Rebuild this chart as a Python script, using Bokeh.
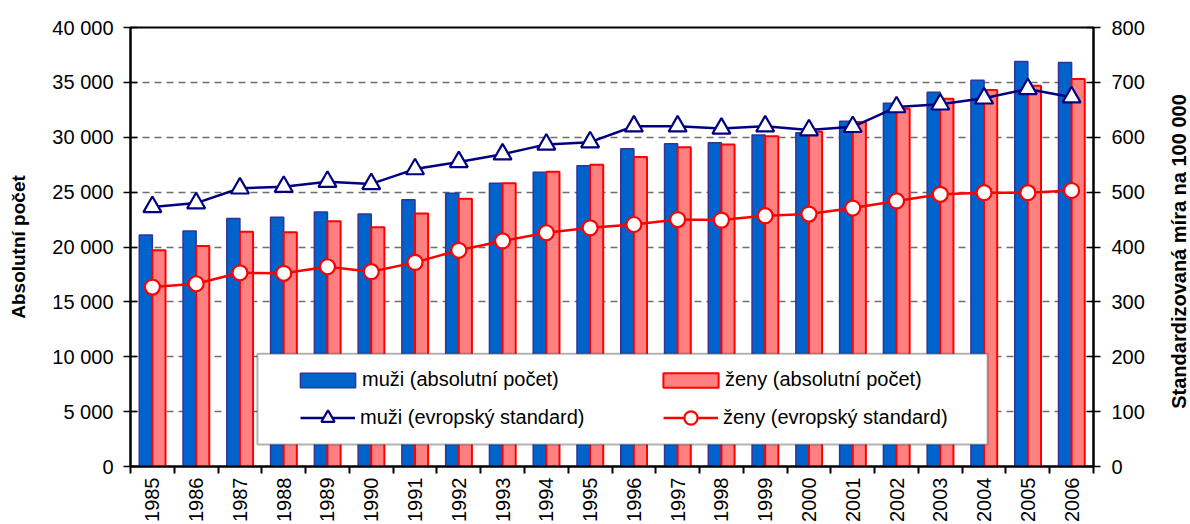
import numpy as np
from math import pi
from bokeh.plotting import figure
from bokeh.models import (Range1d, LinearAxis, FixedTicker, Legend, LegendItem,
                          BoxAnnotation, ColumnDataSource, Label)
from bokeh.transform import dodge
from bokeh.embed import file_html
from bokeh.resources import INLINE

years = [str(y) for y in range(1985, 2007)]
muzi_abs = [21100, 21450, 22600, 22700, 23200, 23000, 24300, 24900, 25800, 26800, 27400,
            28950, 29400, 29500, 30200, 30400, 31450, 33100, 34100, 35200, 36900, 36800]
zeny_abs = [19700, 20100, 21400, 21350, 22350, 21800, 23050, 24400, 25800, 26850, 27500,
            28200, 29100, 29350, 30100, 30500, 31400, 32600, 33500, 34300, 34700, 35300]
muzi_std = [473, 480, 507, 510, 519, 515, 542, 555, 569, 587, 591,
            620, 620, 616, 620, 613, 619, 655, 660, 671, 688, 673]
zeny_std = [327, 333, 353, 352, 364, 355, 372, 394, 411, 426, 435,
            441, 450, 449, 457, 460, 471, 484, 496, 499, 499, 503]

left_ticks = [0, 5000, 10000, 15000, 20000, 25000, 30000, 35000, 40000]
left_tick_labels = ["0", "5 000", "10 000", "15 000", "20 000", "25 000", "30 000", "35 000", "40 000"]
right_ticks = [0, 100, 200, 300, 400, 500, 600, 700, 800]
right_tick_labels = ["0", "100", "200", "300", "400", "500", "600", "700", "800"]

labels_legend = ["muži (absolutní počet)", "ženy (absolutní počet)",
                 "muži (evropský standard)", "ženy (evropský standard)"]
y_title_left = "Absolutní počet"
y_title_right = "Standardizovaná míra na 100 000"

FONT = "Liberation Sans"
n = len(years)
xs = list(range(n))

src = ColumnDataSource(dict(x=xs, ma=muzi_abs, za=zeny_abs, ms=muzi_std, zs=zeny_std))

p = figure(width=1190, height=524, x_range=Range1d(-0.5, n - 0.5), y_range=Range1d(0, 40000),
           output_backend="svg", toolbar_location=None,
           min_border_left=130, min_border_right=97, min_border_top=27, min_border_bottom=57)
p.extra_y_ranges = {"right": Range1d(0, 800)}
p.background_fill_color = "white"
p.border_fill_color = "white"
p.outline_line_color = "black"
p.outline_line_width = 2

# grid
p.xgrid.visible = False
p.ygrid.ticker = FixedTicker(ticks=left_ticks)
p.ygrid.grid_line_color = "#6e6e6e"
p.ygrid.grid_line_dash = "7 5"
p.ygrid.grid_line_width = 1.5

# bars
bar_m = p.vbar(x=dodge("x", -0.15), top="ma", width=0.3, bottom=0, source=src,
               fill_color="#0063CC", line_color="#333399", line_width=1.5)
bar_z = p.vbar(x=dodge("x", 0.15), top="za", width=0.3, bottom=0, source=src,
               fill_color="#FF8080", line_color="#FF0000", line_width=2)

# lines
line_m = p.line("x", "ms", source=src, y_range_name="right", line_color="#000080", line_width=2.5)
mark_m = p.scatter("x", "ms", source=src, y_range_name="right", marker="triangle", size=18,
                   fill_color="white", line_color="#000080", line_width=2.2)
line_z = p.line("x", "zs", source=src, y_range_name="right", line_color="#FF0000", line_width=2.5)
mark_z = p.scatter("x", "zs", source=src, y_range_name="right", marker="circle", size=15,
                   fill_color="white", line_color="#FF0000", line_width=2.2)

# x axis
xa = p.xaxis[0]
xa.ticker = FixedTicker(ticks=xs, minor_ticks=[i - 0.5 for i in range(n + 1)])
xa.major_label_overrides = {i: years[i] for i in range(n)}
xa.major_label_orientation = pi / 2
xa.major_tick_in = 0
xa.major_tick_out = 0
xa.minor_tick_in = 0
xa.minor_tick_out = 7
xa.minor_tick_line_color = "black"
xa.minor_tick_line_width = 2
xa.axis_line_width = 2
xa.axis_line_color = "black"
xa.major_label_standoff = 4
xa.major_label_text_font = FONT
xa.major_label_text_font_size = "20px"
xa.major_label_text_color = "black"

# left axis
ya = p.yaxis[0]
ya.ticker = FixedTicker(ticks=left_ticks)
ya.major_label_overrides = {t: l for t, l in zip(left_ticks, left_tick_labels)}
ya.axis_label = y_title_left

# right axis
ra = LinearAxis(y_range_name="right", ticker=FixedTicker(ticks=right_ticks))
ra.major_label_overrides = {t: l for t, l in zip(right_ticks, right_tick_labels)}
p.add_layout(ra, "right")

for ax in (ya, ra):
    ax.axis_line_width = 2
    ax.axis_line_color = "black"
    ax.major_tick_in = 7
    ax.major_tick_out = 7
    ax.major_tick_line_width = 1.5
    ax.major_tick_line_color = "black"
    ax.minor_tick_line_color = None
    ax.major_label_text_font = FONT
    ax.major_label_text_font_size = "20px"
    ax.major_label_text_color = "black"
    ax.axis_label_text_font = FONT
    ax.axis_label_text_font_size = "19px"
    ax.axis_label_text_font_style = "bold"
    ax.axis_label_text_color = "black"

ya.major_label_standoff = 10
ya.axis_label_standoff = 20
ra.major_label_standoff = 11

# right axis title (reads bottom-to-top), placed in the right side panel
rtitle = Label(x=31, y=215, x_units="screen", y_units="screen",
               text=y_title_right, angle=pi / 2, text_align="center", text_baseline="middle",
               text_font=FONT, text_font_size="20px", text_font_style="bold", text_color="black")
p.add_layout(rtitle, "right")

# legend box (white, black border)
box = BoxAnnotation(left=2.40, right=19.08, bottom=2000, top=10270,
                    fill_color="white", fill_alpha=1.0, line_color="black", line_width=2)
p.add_layout(box)

common = dict(orientation="horizontal", padding=0, margin=0, spacing=0,
              border_line_alpha=0, background_fill_alpha=0,
              label_text_font=FONT, label_text_font_size="20px", label_text_color="black")

leg1 = Legend(items=[LegendItem(label=labels_legend[0], renderers=[bar_m]),
                     LegendItem(label=labels_legend[1], renderers=[bar_z])],
              location=(163, 75), glyph_width=69, glyph_height=18, label_height=18,
              label_standoff=0, label_width=294, **common)
leg2 = Legend(items=[LegendItem(label=labels_legend[2], renderers=[line_m, mark_m]),
                     LegendItem(label=labels_legend[3], renderers=[line_z, mark_z])],
              location=(170, 32), glyph_width=55, glyph_height=33, label_height=33,
              label_standoff=5, label_width=303, **common)
p.add_layout(leg1)
p.add_layout(leg2)

open("out.html", "w").write(file_html(p, INLINE))
